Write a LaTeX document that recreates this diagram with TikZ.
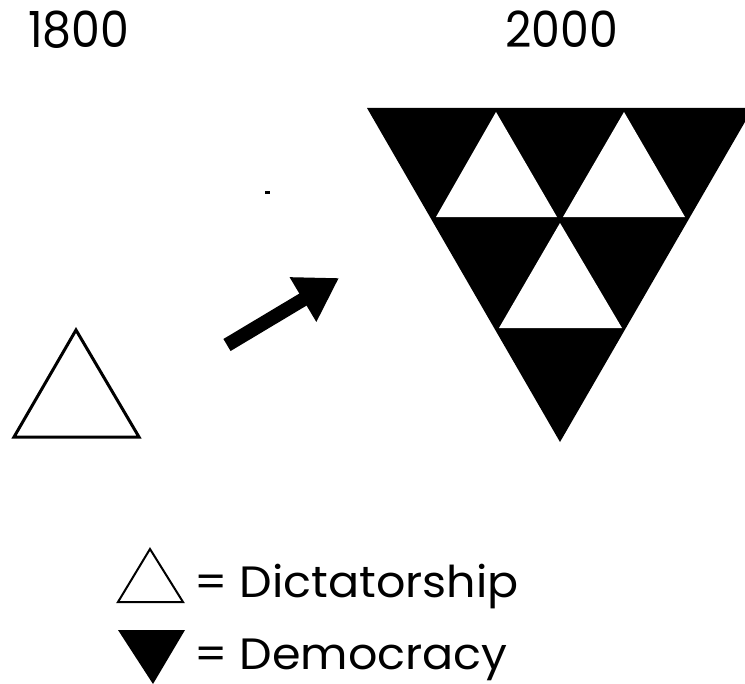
\documentclass[tikz,border=0pt]{standalone}
\usepackage{fontspec}
\setmainfont{Poppins}
\usetikzlibrary{arrows.meta}
\tikzset{
  bigtext/.style={font=\fontsize{50}{50}\selectfont, inner sep=0pt},
  legtext/.style={font=\fontsize{44}{44}\selectfont, inner sep=0pt},
  whitetri/.style={fill=white, draw=none},
  outlinetri/.style={draw=black, line width=3bp, fill=white, line join=miter},
}
\begin{document}
\begin{tikzpicture}[x=1bp,y=-1bp]
\useasboundingbox (0,0) rectangle (745,684);
\fill[white] (0,0) rectangle (745,684);
\begin{scope}
\clip (0,0) rectangle (745,684);
% year labels
\node[bigtext, anchor=base west] (y1800) at (28,48) {\scalebox{0.92}[1]{1800}};
\node[bigtext, anchor=base west] (y2000) at (505,48) {\scalebox{0.92}[1]{2000}};
% big democracy triangle
\fill[black] (367,108) -- (753,108) -- (560,442) -- cycle;
\fill[whitetri] (436,217) -- (557,217) -- (496,112) -- cycle;
\fill[whitetri] (563,217) -- (685,217) -- (624,112) -- cycle;
\fill[whitetri] (499,328) -- (622,328) -- (560,223) -- cycle;
% small dictatorship triangle
\draw[outlinetri] (14,437) -- (139,437) -- (76,330) -- cycle;
% arrow
\coordinate (atail) at (227,345);
\coordinate (atip) at (339,278);
\draw[line width=14bp, -{Triangle[length=42bp,width=49bp]}] (atail) -- (atip);
% speck
\fill[black] (265,191) rectangle (270,194);
% legend
\draw[black, line width=2bp, fill=white] (118,602) -- (183,602) -- (150,549) -- cycle;
\fill[black] (118,630) -- (185,630) -- (153,684) -- cycle;
\node[legtext, anchor=base west] (dict) at (194,597) {\scalebox{1.05}[1]{= Dictatorship}};
\node[legtext, anchor=base west] (demo) at (194,669) {\scalebox{1.05}[1]{= Democracy}};
\end{scope}
\end{tikzpicture}
\end{document}
